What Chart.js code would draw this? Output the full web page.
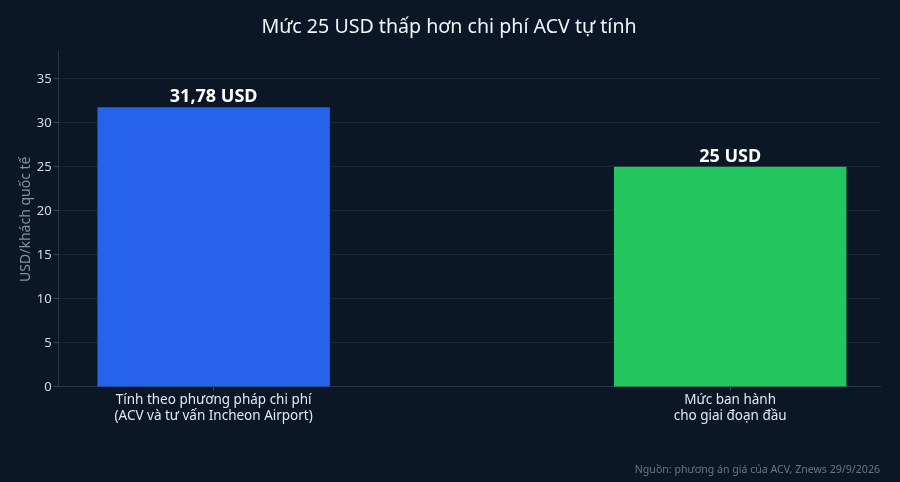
<!DOCTYPE html>
<html>
<head>
<meta charset="utf-8">
<script src="https://cdn.jsdelivr.net/npm/chart.js@4"></script>
<style>
  html, body { margin: 0; padding: 0; background: #0b1727; }
  #wrap { width: 900px; height: 482px; }
</style>
</head>
<body>
<div id="wrap"><canvas id="chart"></canvas></div>
<script>
const categories = [
  ['Tính theo phương pháp chi phí', '(ACV và tư vấn Incheon Airport)'],
  ['Mức ban hành', 'cho giai đoạn đầu']
];
const values = [31.78, 25];
const valueLabels = ['31,78 USD', '25 USD'];
const barColors = ['#2563eb', '#22c55e'];
const yTicks = [0, 5, 10, 15, 20, 25, 30, 35];

// nhãn giá trị trên đầu cột
const barLabels = {
  id: 'barLabels',
  afterDatasetsDraw(chart) {
    const { ctx } = chart;
    const meta = chart.getDatasetMeta(0);
    ctx.save();
    ctx.font = 'bold 18px "Noto Sans"';
    ctx.fillStyle = '#ffffff';
    ctx.textAlign = 'center';
    ctx.textBaseline = 'bottom';
    meta.data.forEach((bar, i) => {
      ctx.fillText(valueLabels[i], bar.x, bar.y - 1);
    });
    ctx.restore();
  }
};

new Chart(document.getElementById('chart'), {
  type: 'bar',
  data: {
    datasets: [{
      data: values.map((v, i) => ({ x: i, y: v })),
      backgroundColor: barColors,
      barPercentage: 0.45,
      categoryPercentage: 1
    }]
  },
  options: {
    responsive: true,
    maintainAspectRatio: false,
    animation: false,
    layout: { padding: { left: 18, right: 20, top: 4, bottom: 6 } },
    plugins: {
      legend: { display: false },
      tooltip: { enabled: false },
      title: {
        display: true,
        text: 'Mức 25 USD thấp hơn chi phí ACV tự tính',
        color: '#f1f5f9',
        font: { family: 'Noto Sans', size: 19.6, weight: 'normal' },
        padding: { top: 12, bottom: 12 }
      },
      subtitle: {
        display: true,
        position: 'bottom',
        align: 'end',
        text: 'Nguồn: phương án giá của ACV, Znews 29/9/2026',
        color: '#6b7585',
        font: { family: 'Noto Sans', size: 10.6 },
        padding: { top: 38, bottom: 0 }
      }
    },
    scales: {
      x: {
        type: 'linear',
        offset: false,
        min: -0.3,
        max: 1.29,
        afterBuildTicks: axis => { axis.ticks = categories.map((c, i) => ({ value: i })); },
        ticks: {
          color: '#e2e8f0',
          font: { family: 'Noto Sans', size: 13.5 },
          padding: 1,
          callback: v => categories[v]
        },
        grid: { offset: false, drawOnChartArea: false, drawTicks: true, tickLength: 4, color: '#3a4556' },
        border: { color: '#2b3646' }
      },
      y: {
        min: 0,
        max: 38.1,
        afterBuildTicks: axis => { axis.ticks = yTicks.map(v => ({ value: v })); },
        ticks: {
          color: '#d5dbe3',
          font: { family: 'Noto Sans', size: 13 },
          padding: 2
        },
        grid: { color: 'rgba(255,255,255,0.07)', tickLength: 5, tickColor: '#3a4556' },
        border: { color: '#2b3646' },
        title: {
          display: true,
          text: 'USD/khách quốc tế',
          color: '#8792a2',
          font: { family: 'Noto Sans', size: 14 },
          padding: 0
        }
      }
    }
  },
  plugins: [barLabels]
});
</script>
</body>
</html>
